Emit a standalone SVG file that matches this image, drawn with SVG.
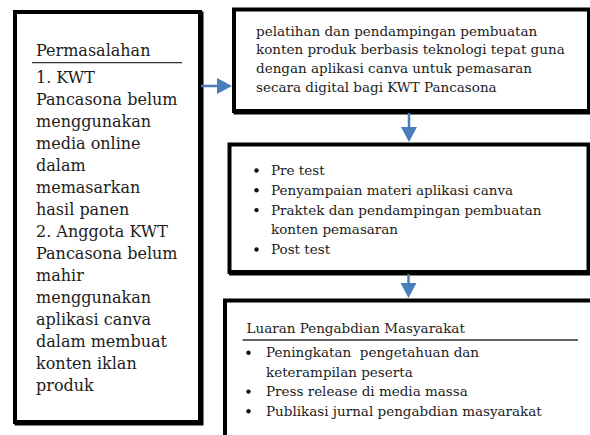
<svg xmlns="http://www.w3.org/2000/svg" width="590" height="435" viewBox="0 0 590 435">
<style>
.box{fill:#fff;stroke:#000;stroke-width:4}
.sh{fill:#000}
.t{font-family:"DejaVu Serif","Liberation Serif",serif;fill:#1c1c1c}
.big{font-size:16px}
.sm{font-size:13.5px}
.rule{stroke:#333;stroke-width:1.3}
.conn{stroke:#4a7ebb;stroke-width:2.5;fill:none}
.head{fill:#4a7ebb}
.dot{fill:#111}
</style>
<rect width="590" height="435" fill="#fff"/>
<g id="permasalahan">
<rect class="sh" x="14.5" y="11.5" width="189" height="414"/>
<rect class="box" x="15" y="12" width="185" height="410"/>
<text class="t big" x="36" y="56">Permasalahan</text>
<line class="rule" x1="32" y1="62.7" x2="182" y2="62.7"/>
<text class="t big" x="36">
<tspan x="36" y="83">1. KWT</tspan>
<tspan x="36" y="105">Pancasona belum</tspan>
<tspan x="36" y="127">menggunakan</tspan>
<tspan x="36" y="149">media online</tspan>
<tspan x="36" y="171">dalam</tspan>
<tspan x="36" y="193">memasarkan</tspan>
<tspan x="36" y="215">hasil panen</tspan>
<tspan x="36" y="237">2. Anggota KWT</tspan>
<tspan x="36" y="259">Pancasona belum</tspan>
<tspan x="36" y="281">mahir</tspan>
<tspan x="36" y="303">menggunakan</tspan>
<tspan x="36" y="325">aplikasi canva</tspan>
<tspan x="36" y="347">dalam membuat</tspan>
<tspan x="36" y="369">konten iklan</tspan>
<tspan x="36" y="391">produk</tspan>
</text>
</g>
<g id="pelatihan">
<rect class="sh" x="233.5" y="9" width="359" height="105.5"/>
<rect class="box" x="234" y="9.5" width="355" height="101.5"/>
<text class="t sm">
<tspan x="256" y="35.5">pelatihan dan pendampingan pembuatan</tspan>
<tspan x="256" y="54.2">konten produk berbasis teknologi tepat guna</tspan>
<tspan x="256" y="72.9">dengan aplikasi canva untuk pemasaran</tspan>
<tspan x="256" y="91.6">secara digital bagi KWT Pancasona</tspan>
</text>
</g>
<g id="kegiatan">
<rect class="sh" x="229" y="144" width="363" height="131.5"/>
<rect class="box" x="229.5" y="144.5" width="359" height="127.5"/>
<circle class="dot" cx="256.5" cy="170.5" r="2.2"/>
<circle class="dot" cx="256.5" cy="190.3" r="2.2"/>
<circle class="dot" cx="256.5" cy="210.1" r="2.2"/>
<circle class="dot" cx="256.5" cy="249.5" r="2.2"/>
<text class="t sm">
<tspan x="271" y="175">Pre test</tspan>
<tspan x="271" y="194.8">Penyampaian materi aplikasi canva</tspan>
<tspan x="271" y="214.6">Praktek dan pendampingan pembuatan</tspan>
<tspan x="271" y="234.2">konten pemasaran</tspan>
<tspan x="271" y="254">Post test</tspan>
</text>
</g>
<g id="luaran">
<rect class="sh" x="224.5" y="300" width="380" height="150"/>
<rect class="box" x="225" y="300.5" width="375" height="145"/>
<text class="t sm" x="246.5" y="333.3">Luaran Pengabdian Masyarakat</text>
<line class="rule" x1="242.5" y1="340" x2="578" y2="340"/>
<circle class="dot" cx="248.5" cy="352.8" r="2.2"/>
<circle class="dot" cx="248.5" cy="391.6" r="2.2"/>
<circle class="dot" cx="248.5" cy="411.2" r="2.2"/>
<text class="t sm" xml:space="preserve"><tspan x="266" y="357.3">Peningkatan  pengetahuan dan</tspan><tspan x="266" y="376.5">keterampilan peserta</tspan><tspan x="266" y="396">Press release di media massa</tspan><tspan x="266" y="415.7">Publikasi jurnal pengabdian masyarakat</tspan></text>
</g>
<g id="connectors">
<line class="conn" x1="201" y1="86" x2="218" y2="86"/>
<polygon class="head" points="217,78 232,86 217,94"/>
<line class="conn" x1="409" y1="113" x2="409" y2="128"/>
<polygon class="head" points="401,127 417,127 409,142"/>
<line class="conn" x1="408.5" y1="274" x2="408.5" y2="284"/>
<polygon class="head" points="400.5,283 416.5,283 408.5,298"/>
</g>
</svg>
